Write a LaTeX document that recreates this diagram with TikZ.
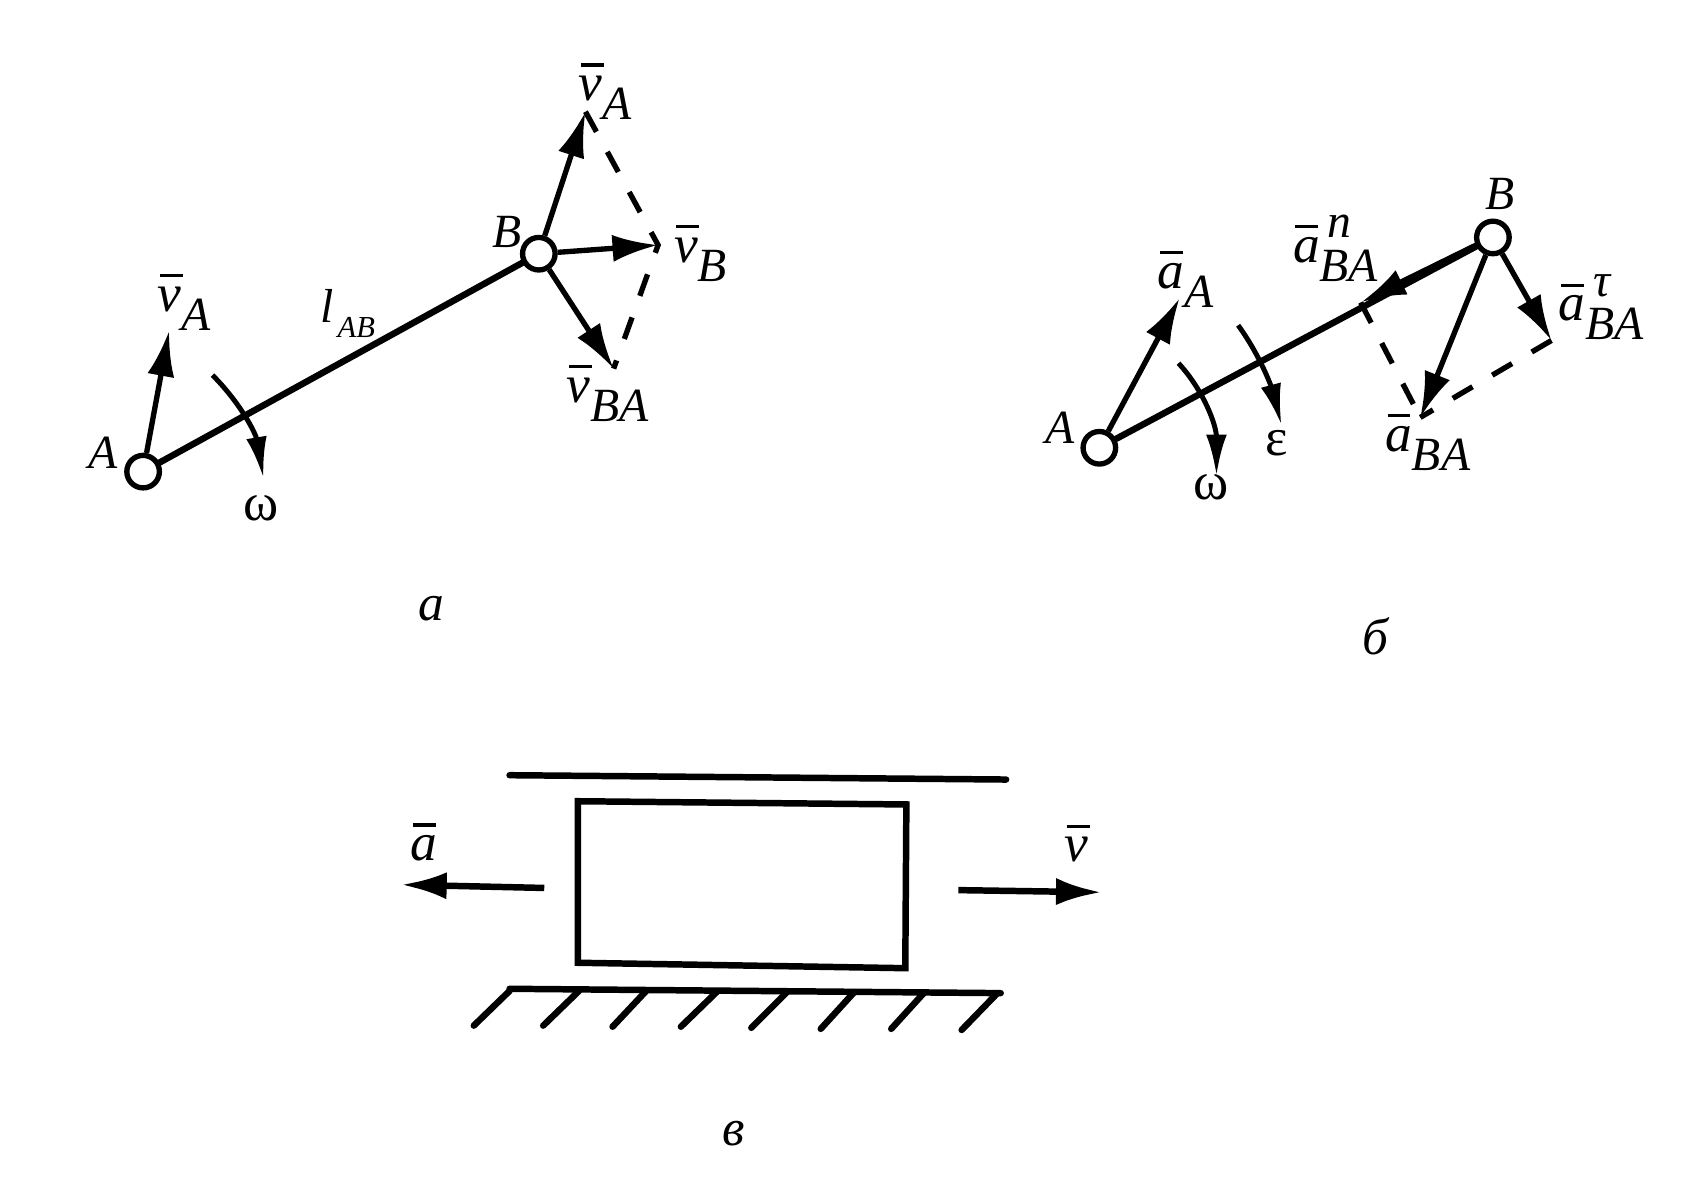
\documentclass[tikz,border=0pt]{standalone}
\usepackage{fontspec}
\setmainfont{Liberation Serif}
\usetikzlibrary{arrows.meta}
% bar over a letter, then optional upper index and lower index
\newcommand{\barred}[1]{{\fontsize{14}{14}\selectfont\makebox[0pt][l]{\kern0.6pt\raisebox{9pt}{\rule{6pt}{0.8pt}}}\textit{#1}}}
\newcommand{\vsym}[3]{\barred{#1}\makebox[0pt][l]{\kern2pt\raisebox{6.5pt}{\textit{#2}}}\raisebox{-5pt}{\textit{#3}}}
\tikzset{
	joint/.style={circle, draw=black, fill=white, line width=1.4pt, inner sep=0pt, minimum size=0.3cm},
	rod/.style={line width=1.7pt, line cap=round},
	vec/.style={line width=1.4pt, -{Latex[length=0.42cm, width=0.25cm]}},
	spin/.style={line width=1.3pt, -{Latex[length=0.38cm, width=0.19cm]}},
	aux/.style={line width=1.4pt, dash pattern=on 6pt off 6pt},
	lbl/.style={inner sep=0pt, anchor=base west, xshift=0.03cm, yshift=-0.03cm, font=\fontsize{12.5}{14}\selectfont},
	figlbl/.style={inner sep=0pt, yshift=-0.03cm, font=\fontsize{13.5}{15}\selectfont\itshape},
	greek/.style={inner sep=0pt, font=\fontsize{14}{15}\selectfont}
}
\begin{document}
\begin{tikzpicture}[x=0.01cm, y=-0.01cm]
	\useasboundingbox (0, 0) rectangle (1568, 1096);

	% left figure
	\node[joint] (A1) at (132, 435) {};
	\node[joint] (B1) at (497, 234) {};
	\coordinate (A1v) at (156, 305);
	\coordinate (B1v) at (540, 103);
	\coordinate (B1s) at (607, 226);
	\coordinate (B1r) at (566, 340);
	\coordinate (W1a) at (196, 346);
	\coordinate (W1b) at (243, 441);

	\draw[rod] (A1) -- (B1);
	\draw[vec] (A1) -- (A1v);
	\draw[vec] (B1) -- (B1v);
	\draw[vec] (B1) -- (B1s);
	\draw[vec] (B1) -- (B1r);
	\draw[aux] (B1v) -- (B1s) -- (B1r);
	\draw[spin] (W1a) .. controls (222, 372) and (236, 400) .. (W1b);

	\node[lbl] (A1t) at (78, 429) {\textit{A}};
	\node[lbl] (B1t) at (451, 225) {\textit{B}};
	\node[lbl] (A1vt) at (142, 284) {\vsym{v}{}{A}};
	\node[lbl] (B1vt) at (530, 90) {\vsym{v}{}{A}};
	\node[lbl] (B1st) at (618, 239) {\vsym{v}{}{B}};
	\node[lbl] (B1rt) at (519, 368) {\vsym{v}{}{BA}};
	\node[lbl] (L1t) at (292, 294) {\textit{l}\raisebox{-4pt}{\fontsize{8}{9}\selectfont\textit{\kern1pt AB}}};
	\node[greek] (W1t) at (241, 469) {ω};
	\node[figlbl] (F1t) at (398, 558) {а};

	% right figure
	\node[joint] (A2) at (1014, 413) {};
	\node[joint] (B2) at (1377, 219) {};
	\coordinate (A2v) at (1088, 275);
	\coordinate (B2n) at (1255, 279);
	\coordinate (B2s) at (1310, 385);
	\coordinate (B2k) at (1431, 314);
	\coordinate (W2a) at (1087, 335);
	\coordinate (W2b) at (1122, 439);
	\coordinate (E2a) at (1142, 300);
	\coordinate (E2b) at (1182, 392);

	\draw[rod] (A2) -- (B2);
	\draw[vec] (A2) -- (A2v);
	\draw[vec, rod] (B2) -- (B2n);
	\draw[vec] (B2) -- (B2s);
	\draw[vec] (B2) -- (B2k);
	\draw[aux] (B2n) -- (B2s);
	\draw[aux] (B2k) -- (B2s);
	\draw[spin] (W2a) .. controls (1110, 360) and (1122, 392) .. (W2b);
	\draw[spin] (E2a) .. controls (1163, 329) and (1173, 358) .. (E2b);

	\node[lbl] (A2t) at (961, 406) {\textit{A}};
	\node[lbl] (B2t) at (1366, 190) {\textit{B}};
	\node[lbl] (A2vt) at (1064, 263) {\vsym{a}{}{A}};
	\node[lbl] (B2nt) at (1189, 239) {\vsym{a}{n}{BA}};
	\node[lbl] (B2st) at (1274, 413) {\vsym{a}{}{BA}};
	\node[lbl] (B2kt) at (1434, 293) {\vsym{a}{τ}{BA}};
	\node[greek] (W2t) at (1117, 449) {ω};
	\node[greek] (E2t) at (1178, 409) {ε};
	\node[figlbl] (F2t) at (1269, 584) {б};

	% lower figure
	\draw[rod] (470, 715) -- (928, 719);
	\draw[rod, line cap=butt] (533, 739) -- (836, 742) -- (835, 893) -- (533, 888) -- cycle;
	\draw[rod] (470, 912) -- (923, 916);

	\draw[rod] (470, 914) -- (437, 946);
	\draw[rod] (534, 914) -- (501, 946);
	\draw[rod] (596, 914) -- (565, 947);
	\draw[rod] (661, 915) -- (628, 947);
	\draw[rod] (726, 915) -- (693, 948);
	\draw[rod] (788, 915) -- (757, 949);
	\draw[rod] (852, 916) -- (822, 949);
	\draw[rod] (920, 916) -- (887, 950);

	\coordinate (Fa) at (502, 819);
	\coordinate (Ta) at (370, 816);
	\coordinate (Fv) at (884, 821);
	\coordinate (Tv) at (1016, 823);
	\draw[vec, line width=1.7pt] (Fa) -- (Ta);
	\draw[vec, line width=1.7pt] (Fv) -- (Tv);

	\node[lbl] (Tat) at (375, 791) {\barred{a}};
	\node[lbl] (Tvt) at (978, 792) {\barred{v}};
	\node[figlbl] (F3t) at (677, 1043) {в};
\end{tikzpicture}
\end{document}
